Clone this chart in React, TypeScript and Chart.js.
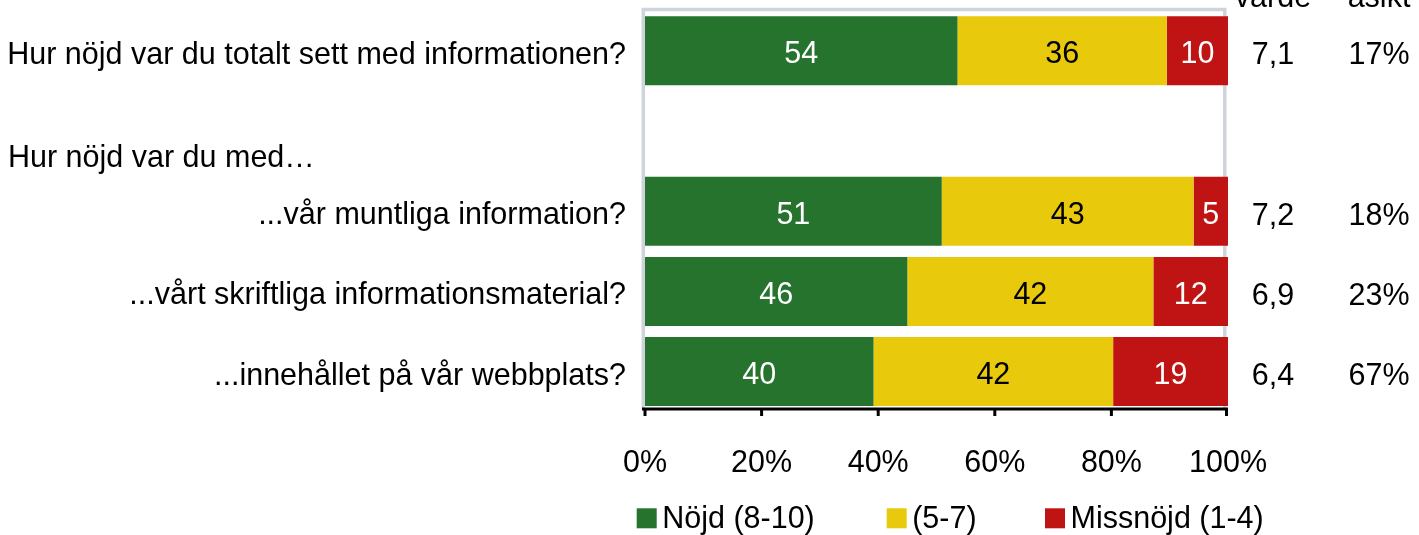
import React, { useEffect, useRef } from 'react';
import { Chart, registerables } from 'chart.js';

Chart.register(...registerables);

const FONT = "'Liberation Sans', Arial, Helvetica, sans-serif";
const FS = 30.5;

// ---- data ----
const categories = [
  'Hur nöjd var du totalt sett med informationen?',
  '',
  '...vår muntliga information?',
  '...vårt skriftliga informationsmaterial?',
  '...innehållet på vår webbplats?',
];
const groupHeading = 'Hur nöjd var du med…';
const seriesNames = ['Nöjd (8-10)', '(5-7)', 'Missnöjd (1-4)'];
// bar lengths (share of respondents, %)
const satisfiedShare = [53.6, null, 50.9, 45.0, 39.2];
const neutralShare = [35.9, null, 43.2, 42.2, 41.1];
const dissatisfiedShare = [10.5, null, 5.9, 12.8, 19.7];
// printed labels
const satisfiedLabels = ['54', '', '51', '46', '40'];
const neutralLabels = ['36', '', '43', '42', '42'];
const dissatisfiedLabels = ['10', '', '5', '12', '19'];
// side columns
const meanValues = ['7,1', '', '7,2', '6,9', '6,4'];
const noOpinionValues = ['17%', '', '18%', '23%', '67%'];
const columnHeaders = ['värde', 'åsikt'];
const xTickValues = [0, 20, 40, 60, 80, 100];

const COLORS = ['#26732e', '#e9c90b', '#bf1314'];
const LABEL_COLORS = ['#ffffff', '#000000', '#ffffff'];

const overlayPlugin = {
  id: 'overlay',
  beforeDatasetsDraw(chart: any) {
    const { ctx, chartArea: a } = chart;
    ctx.save();
    // light grey plot frame (top, left, right)
    ctx.strokeStyle = '#cfd3dc';
    ctx.lineWidth = 3.5;
    ctx.beginPath();
    ctx.moveTo(a.left - 1.7, a.bottom - 2.7);
    ctx.lineTo(a.left - 1.7, a.top - 1.2);
    ctx.lineTo(a.right - 3.2, a.top - 1.2);
    ctx.lineTo(a.right - 3.2, a.bottom - 2.7);
    ctx.stroke();
    ctx.restore();
  },
  afterDatasetsDraw(chart: any) {
    const { ctx, chartArea: a } = chart;
    const xScale = chart.scales.x;
    ctx.save();
    // x axis line + tick marks
    const axisY = a.bottom - 2.7;
    ctx.strokeStyle = '#000';
    ctx.lineWidth = 3;
    ctx.beginPath();
    ctx.moveTo(a.left - 3, axisY);
    ctx.lineTo(a.right, axisY);
    ctx.stroke();
    xTickValues.forEach((v) => {
      const px = Math.min(Math.max(xScale.getPixelForValue(v), a.left - 1.5), a.right - 1.5);
      ctx.beginPath();
      ctx.moveTo(px, axisY);
      ctx.lineTo(px, axisY + 7);
      ctx.stroke();
    });

    // segment labels
    ctx.font = `${FS}px ${FONT}`;
    ctx.textAlign = 'center';
    ctx.textBaseline = 'alphabetic';
    const labelSets = [satisfiedLabels, neutralLabels, dissatisfiedLabels];
    chart.data.datasets.forEach((ds: any, di: number) => {
      const meta = chart.getDatasetMeta(di);
      meta.data.forEach((el: any, i: number) => {
        const txt = labelSets[di][i];
        if (!txt) return;
        ctx.fillStyle = LABEL_COLORS[di];
        ctx.fillText(txt, (el.x + el.base) / 2, el.y + 12.5);
      });
    });

    // side columns
    ctx.fillStyle = '#000';
    const meta0 = chart.getDatasetMeta(0);
    meta0.data.forEach((el: any, i: number) => {
      if (meanValues[i]) ctx.fillText(meanValues[i], 1273, el.y + 13.5);
      if (noOpinionValues[i]) ctx.fillText(noOpinionValues[i], 1379, el.y + 13.5);
    });
    ctx.fillText(columnHeaders[0], 1273, 6.5);
    ctx.fillText(columnHeaders[1], 1379, 6.5);

    // group heading
    ctx.textAlign = 'left';
    ctx.fillText(groupHeading, 8, 166.5);

    // legend
    const legendBoxes = [636.7, 886.7, 1045];
    legendBoxes.forEach((bx, i) => {
      ctx.fillStyle = COLORS[i];
      ctx.fillRect(bx, 508.3, 20, 20);
      ctx.fillStyle = '#000';
      ctx.fillText(seriesNames[i], bx + 25.5, 528.3);
    });
    ctx.restore();
  },
};

export default function App() {
  const ref = useRef<HTMLCanvasElement | null>(null);

  useEffect(() => {
    if (!ref.current) return;
    const chart = new Chart(ref.current, {
      type: 'bar',
      data: {
        labels: categories,
        datasets: [
          { label: seriesNames[0], data: satisfiedShare, backgroundColor: COLORS[0] },
          { label: seriesNames[1], data: neutralShare, backgroundColor: COLORS[1] },
          { label: seriesNames[2], data: dissatisfiedShare, backgroundColor: COLORS[2] },
        ] as any,
      },
      options: {
        indexAxis: 'y',
        responsive: false,
        animation: false,
        datasets: {
          bar: { barPercentage: 0.86, categoryPercentage: 1, borderWidth: 0 },
        } as any,
        layout: { padding: { top: 10.7, right: 191, left: 0, bottom: 0 } },
        plugins: { legend: { display: false }, tooltip: { enabled: false } },
        scales: {
          x: {
            type: 'linear',
            stacked: true,
            min: 0,
            max: 100,
            grid: { display: false },
            border: { display: false },
            ticks: {
              stepSize: 20,
              autoSkip: false,
              maxRotation: 0,
              padding: 26,
              color: '#000',
              font: { size: FS, family: FONT },
              callback: (v: any) => `${v}%`,
            },
            afterFit: (s: any) => {
              s.height = 123.3;
              s.paddingLeft = 0;
              s.paddingRight = 0;
            },
          },
          y: {
            type: 'category',
            stacked: true,
            grid: { display: false },
            border: { display: false },
            ticks: {
              padding: 11,
              labelOffset: 4.5,
              color: '#000',
              font: { size: FS, family: FONT },
            },
            afterFit: (s: any) => {
              s.width = 645;
              s.paddingTop = 0;
              s.paddingBottom = 0;
            },
          },
        },
      } as any,
      plugins: [overlayPlugin],
    });
    return () => chart.destroy();
  }, []);

  return (
    <canvas
      ref={ref}
      width={1419}
      height={535}
      style={{ position: 'absolute', left: 0, top: 0, display: 'block' }}
    />
  );
}
